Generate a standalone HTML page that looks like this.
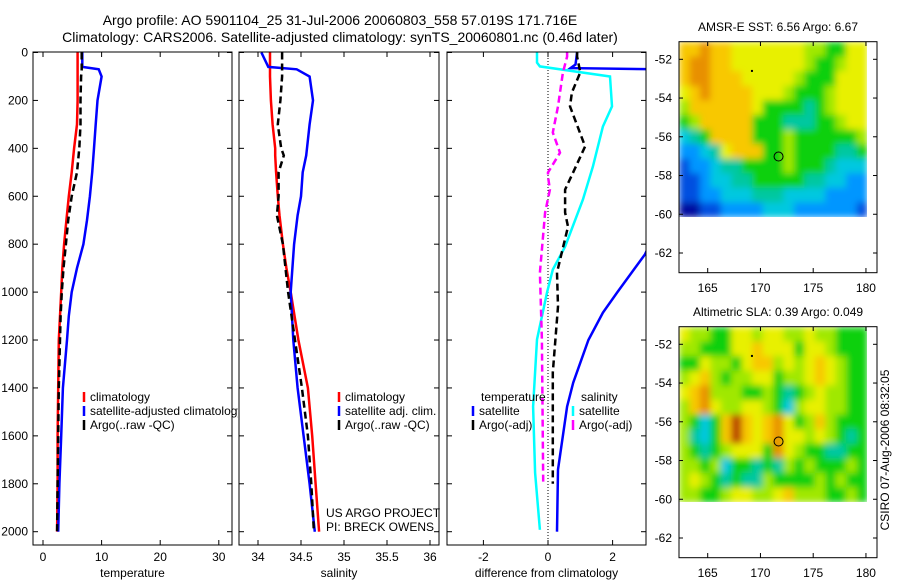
<!DOCTYPE html>
<html><head><meta charset="utf-8">
<style>
body{margin:0;background:#fff;}
svg{display:block;font-family:"Liberation Sans",sans-serif;}
text{font-size:12px;fill:#000;}
</style></head>
<body>
<svg id="fig" width="900" height="580" viewBox="0 0 900 580">
<defs>
<filter id="smooth" x="0" y="0" width="1" height="1"><feGaussianBlur stdDeviation="3.5" edgeMode="duplicate"/></filter>
</defs>
<text x="340" y="25" text-anchor="middle" style="font-size:14px">Argo profile: AO 5901104_25 31-Jul-2006 20060803_558 57.019S 171.716E</text>
<text x="340" y="42" text-anchor="middle" style="font-size:14px">Climatology: CARS2006. Satellite-adjusted climatology: synTS_20060801.nc (0.46d later)</text>
<g id="root"></g>
<text transform="translate(889,450) rotate(-90)" text-anchor="middle">CSIRO 07-Aug-2006 08:32:05</text>
</svg>
<script>
// ---- depth profile data ----
const tDepth=[0,60,70,100,200,300,400,500,600,700,800,900,1000,1100,1200,1400,1600,1800,2000];
const tClim=[5.9,5.9,5.9,5.9,5.9,5.8,5.3,4.9,4.4,4.0,3.6,3.3,3.1,2.9,2.7,2.6,2.5,2.5,2.4];
const tSat=[6.7,6.7,9.5,10.0,9.3,9.0,8.7,8.4,8.0,7.5,6.9,5.8,4.9,4.4,4.1,3.4,3.1,2.8,2.6];
const tArgo=[6.6,6.6,6.6,6.5,6.4,6.4,6.2,5.8,4.9,4.3,3.9,3.5,3.2,3.0,2.9,2.7,2.6,2.5,2.4];
const sDepth=[0,60,70,100,200,300,400,430,500,600,680,800,900,1000,1200,1400,1600,1800,2000];
const sClim=[34.14,34.14,34.14,34.14,34.15,34.17,34.2,34.2,34.21,34.23,34.25,34.29,34.33,34.38,34.47,34.58,34.63,34.67,34.71];
const sSat=[34.04,34.12,34.45,34.6,34.64,34.6,34.57,34.56,34.52,34.5,34.46,34.42,34.4,34.38,34.41,34.46,34.53,34.6,34.66];
const sArgo=[34.28,34.28,34.28,34.28,34.26,34.23,34.27,34.3,34.24,34.24,34.22,34.29,34.32,34.35,34.43,34.51,34.58,34.62,34.65];
const dTsatDepth=[0,50,65,72,700,843,1000,1086,1200,1378,1478,1741,2000];
const dTsat=[0.9,0.85,0.7,4.5,3.5,3.0,2.15,1.7,1.25,0.78,0.59,0.31,0.28];
const dTargoDepth=[0,17,83,167,225,392,500,572,668,727,918,1060,1336,1754,1800];
const dTargo=[0.9,0.9,1.0,0.74,0.68,1.15,0.78,0.53,0.53,0.62,0.28,0.31,0.15,0.15,0.15];
const dSsatDepth=[0,42,58,100,225,309,476,614,810,906,1002,1198,1478,1754,1992];
const dSsat=[-0.34,-0.34,-0.25,1.92,1.98,1.7,1.39,1.08,0.53,0.15,-0.03,-0.34,-0.46,-0.4,-0.25];
const dSargoDepth=[0,17,84,225,334,418,501,518,572,668,919,1198,1795];
const dSargo=[0.59,0.59,0.46,0.31,0.15,0.37,0.0,0.0,0.06,-0.09,-0.25,-0.19,-0.15];
const depthTicks=[0,200,400,600,800,1000,1200,1400,1600,1800,2000];
const tTicks=[0,10,20,30];
const sTicks=[34,34.5,35,35.5,36];
const sTickLabels=["34","34.5","35","35.5","36"];
const dTicks=[-2,0,2];
// ---- map data ----
const lonTicks=[165,170,175,180];
const latTicks=[-52,-54,-56,-58,-60,-62];
const sstGrid=["889887777777665577","899887777777655677","899888777776555777","789888877765556777","688888875555456777","568888855544455677","345888855565555556","223478885565555445","122344555565554333","112334455555443322","112233344433332222","001122223332222221"];
const slaGrid=["766557767766766555","665557787775776555","557665788676787655","678656677566787655","789666556545676655","689766776536776655","65358a878975686555","64358a878977676545","654567775976554455","665635545465655565","676545446555565655","665567766786665565"];
const floatLon=171.716, floatLat=-57.019;

const NS="http://www.w3.org/2000/svg";
const root=document.getElementById('root');
function mk(tag,attrs,parent){const e=document.createElementNS(NS,tag);for(const k in attrs)e.setAttribute(k,attrs[k]);(parent||root).appendChild(e);return e;}
const Y0=52.5, DY=0.2396;
const yD=d=>Y0+d*DY;
const TOP=52, BOT=545;

function panel(name,x0,x1,xf,ticks,labels,xlabel,showY){
  const g=mk('g',{});
  
  
  const cid='clip-'+name;
  const cp=mk('clipPath',{id:cid},g);mk('rect',{x:x0,y:TOP,width:x1-x0,height:BOT-TOP},cp);
  ticks.forEach((t,i)=>{const x=xf(t);
    mk('line',{x1:x,y1:BOT,x2:x,y2:BOT-5,stroke:'#000'},g);
    mk('line',{x1:x,y1:TOP,x2:x,y2:TOP+5,stroke:'#000'},g);
    const tx=mk('text',{x:x,y:BOT+16,'text-anchor':'middle'},g);tx.textContent=labels[i];
    
    
  });
  depthTicks.forEach(d=>{const y=yD(d);
    mk('line',{x1:x0,y1:y,x2:x0+5,y2:y,stroke:'#000'},g);
    mk('line',{x1:x1,y1:y,x2:x1-5,y2:y,stroke:'#000'},g);
    if(showY){const tx=mk('text',{x:x0-5,y:y+4,'text-anchor':'end'},g);tx.textContent=d;
      
      }
  });
  const xl=mk('text',{x:(x0+x1)/2,y:BOT+32,'text-anchor':'middle'},g);xl.textContent=xlabel;
  
  
  const pg=mk('g',{'clip-path':'url(#'+cid+')'},g);
  return {g,pg,box:()=>mk('rect',{x:x0,y:TOP,width:x1-x0,height:BOT-TOP,fill:'none',stroke:'#000'},g)};
}
function line(p,depths,vals,xf,color,dash,name){
  const pts=depths.map((d,i)=>xf(vals[i]).toFixed(1)+','+yD(d).toFixed(1)).join(' ');
  const e=mk('polyline',{points:pts,fill:'none',stroke:color,'stroke-width':2.5,'stroke-dasharray':dash||'none'},p.pg);
  
  
}
function legend(p,x,y,color,label,name){
  mk('line',{x1:x,y1:y-9,x2:x,y2:y+1,stroke:color,'stroke-width':2.5},p.g);
  const t=mk('text',{x:x+6,y:y},p.g);t.textContent=label;
  
  
}
// panel 1 temperature
const xT=t=>43+t*5.86;
const p1=panel('temperature-panel',33,232,xT,tTicks,tTicks.map(String),'temperature',true);
line(p1,tDepth,tClim,xT,'#f00',null,'temp-climatology-line');
line(p1,tDepth,tSat,xT,'#00f',null,'temp-satellite-line');
line(p1,tDepth,tArgo,xT,'#000','7,4','temp-argo-line');
p1.box();
const lc=mk('clipPath',{id:'lclip'},p1.g);mk('rect',{x:0,y:0,width:238,height:580},lc);
const lg1=mk('g',{'clip-path':'url(#lclip)'},p1.g);
[['#f00','climatology',401],['#00f','satellite-adjusted climatology',415],['#000','Argo(..raw -QC)',429]].forEach(a=>{
  mk('line',{x1:84,y1:a[2]-9,x2:84,y2:a[2]+1,stroke:a[0],'stroke-width':2.5},lg1);
  const t=mk('text',{x:90,y:a[2]},lg1);t.textContent=a[1];
  
  
});
// panel 2 salinity
const xS=s=>258+(s-34)*86;
const p2=panel('salinity-panel',239,439,xS,sTicks,sTickLabels,'salinity',false);
line(p2,sDepth,sClim,xS,'#f00',null,'sal-climatology-line');
line(p2,sDepth,sSat,xS,'#00f',null,'sal-satellite-line');
line(p2,sDepth,sArgo,xS,'#000','7,4','sal-argo-line');
p2.box();
legend(p2,339,401,'#f00','climatology','legend-entry');
legend(p2,339,415,'#00f','satellite adj. clim.','legend-entry');
legend(p2,339,429,'#000','Argo(..raw -QC)','legend-entry');
[['US ARGO PROJECT',517],['PI: BRECK OWENS',531]].forEach(a=>{const t=mk('text',{x:326,y:a[1]},p2.g);t.textContent=a[0];
  
  });
// panel 3 difference
const xDf=v=>548+v*32.3;
const p3=panel('difference-panel',447,646,xDf,dTicks,dTicks.map(String),'difference from climatology',false);
mk('line',{x1:xDf(0),y1:TOP,x2:xDf(0),y2:BOT,stroke:'#000','stroke-dasharray':'1,2'},p3.pg);
line(p3,dTsatDepth,dTsat,xDf,'#00f',null,'diff-temp-satellite-line');
line(p3,dSsatDepth,dSsat,xDf,'#0ff',null,'diff-sal-satellite-line');
line(p3,dTargoDepth,dTargo,xDf,'#000','7,4','diff-temp-argo-line');
line(p3,dSargoDepth,dSargo,xDf,'#f0f','7,4','diff-sal-argo-line');
p3.box();
let tt=mk('text',{x:481,y:401},p3.g);tt.textContent='temperature';


tt=mk('text',{x:581,y:401},p3.g);tt.textContent='salinity';


legend(p3,473,415,'#00f','satellite','legend-entry');
legend(p3,473,429,'#000','Argo(-adj)','legend-entry');
legend(p3,573,415,'#0ff','satellite','legend-entry');
legend(p3,573,429,'#f0f','Argo(-adj)','legend-entry');

// ---- maps ----
const pal=['#0010a0','#0050e0','#0096ff','#00c8e0','#00c8a0','#10d010','#a0e800','#e8f000','#f8c800','#e89000','#b84000'];
function map(name,oy,grid,title){
  const g=mk('g',{});
  
  
  const xL=lon=>707.7+(lon-165)*10.55;
  const yL=lat=>oy+59.3+(-52-lat)*19.37;
  const ix0=679,ix1=867,iy0=oy+42,iy1=oy+217;
  const rows=grid.length,cols=grid[0].length;
  const cw=(ix1-ix0)/cols,ch=(iy1-iy0)/rows;
  const cid='mclip-'+name;
  const cp=mk('clipPath',{id:cid},g);mk('rect',{x:ix0,y:iy0,width:ix1-ix0,height:iy1-iy0},cp);
  const outer=mk('g',{'clip-path':'url(#'+cid+')'},g);
  const cg=mk('g',{filter:'url(#smooth)'},outer);
  grid.forEach((row,r)=>{for(let c=0;c<cols;c++){
    const v=parseInt(row[c],16);
    const cell=mk('rect',{x:(ix0+c*cw).toFixed(2),y:(iy0+r*ch).toFixed(2),width:(cw+0.6).toFixed(2),height:(ch+0.6).toFixed(2),fill:pal[v]},cg);
    
    
  }});
  mk('rect',{x:679,y:oy+41.7,width:198,height:231,fill:'none',stroke:'#000'},g);
  lonTicks.forEach(l=>{const x=xL(l);
    mk('line',{x1:x,y1:oy+41.7,x2:x,y2:oy+46,stroke:'#000'},g);
    mk('line',{x1:x,y1:oy+272.7,x2:x,y2:oy+268,stroke:'#000'},g);
    const t=mk('text',{x:x,y:oy+292,'text-anchor':'middle'},g);t.textContent=l;
    
    });
  latTicks.forEach(l=>{const y=yL(l);
    mk('line',{x1:679,y1:y,x2:683,y2:y,stroke:'#000'},g);
    mk('line',{x1:877,y1:y,x2:873,y2:y,stroke:'#000'},g);
    const t=mk('text',{x:672,y:y+4,'text-anchor':'end'},g);t.textContent=l;
    
    });
  const m=mk('circle',{cx:xL(floatLon),cy:yL(floatLat),r:4.5,fill:'none',stroke:'#000','stroke-width':1},g);
  
  
  mk('rect',{x:xL(169.1),y:yL(-52.6)-1,width:2,height:2,fill:'#000'},g);
  const t=mk('text',{x:778,y:oy+31,'text-anchor':'middle'},g);t.textContent=title;
  
  
}
map('sst-map',0,sstGrid,'AMSR-E SST: 6.56 Argo: 6.67');
map('sla-map',285,slaGrid,'Altimetric SLA: 0.39 Argo: 0.049');
</script>
</body></html>
